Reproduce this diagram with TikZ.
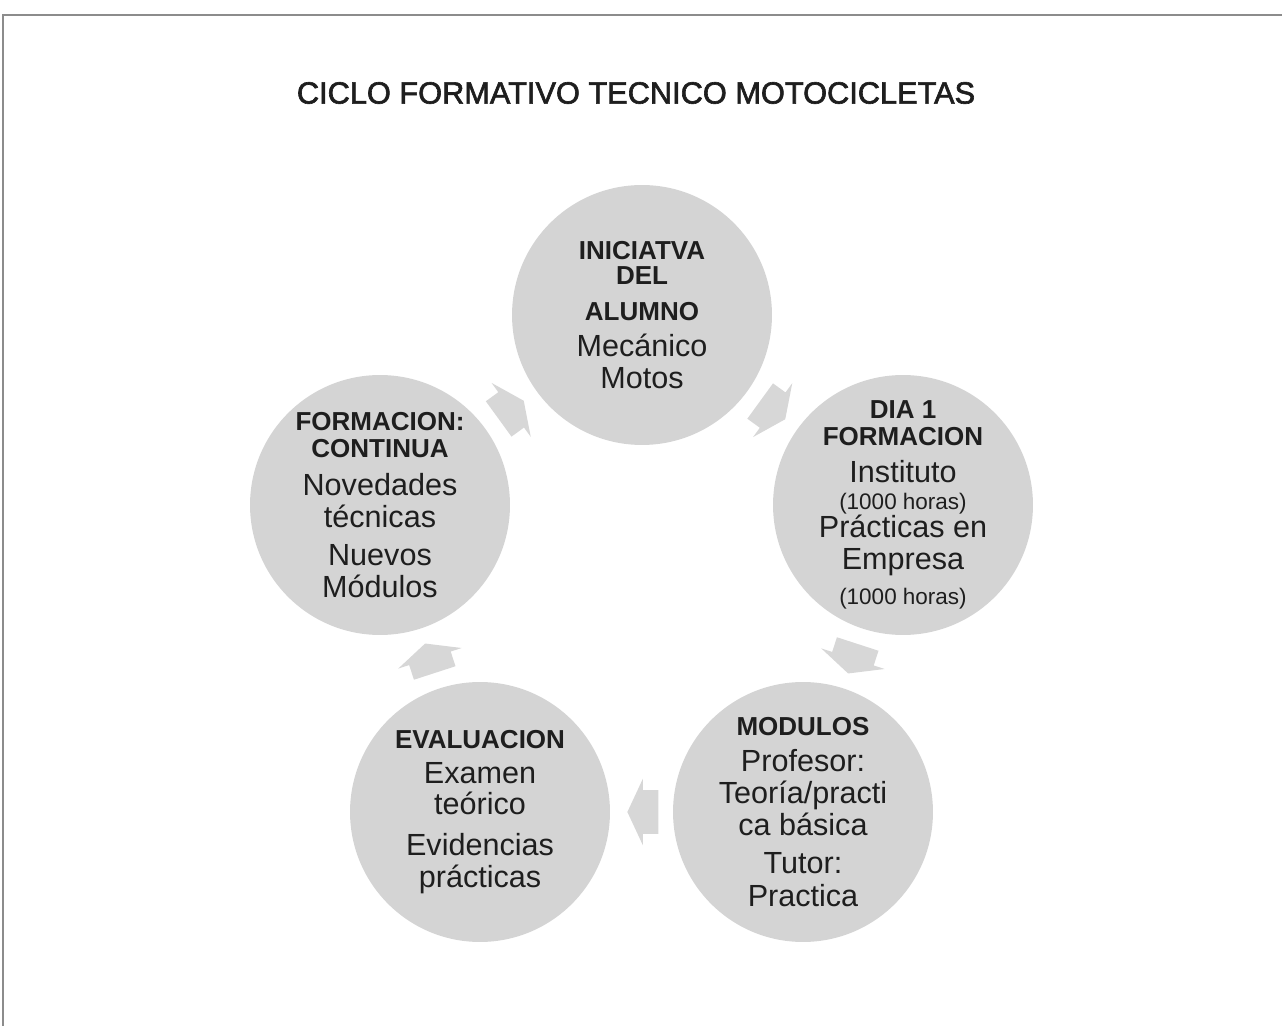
\documentclass[tikz,border=0pt]{standalone}
\usepackage{fontspec}
\setmainfont{Liberation Sans}
\newfontfamily\titlefont{Liberation Sans}[FakeBold=2]
\usepackage{tikz}
\usetikzlibrary{shapes.arrows,calc}
\definecolor{disc}{HTML}{D4D4D4}
\definecolor{flow}{HTML}{D7D7D7}
\definecolor{ink}{HTML}{1E1E1E}
\definecolor{frame}{HTML}{8C8C8C}
\newcommand{\hd}[1]{{\bfseries\fontsize{14.8}{15}\selectfont #1}}
\newcommand{\sm}[1]{{\fontsize{12.8}{13}\selectfont #1}}

\begin{document}
\begin{tikzpicture}[x=0.02cm,y=-0.02cm,
  stage/.style={circle,fill=disc,minimum size=5.2cm,inner sep=-0.4cm,align=center,text=ink,font=\fontsize{17.4}{18.2}\selectfont},
  cyc/.style={single arrow,fill=flow,inner xsep=0pt,inner ysep=0.43cm,minimum height=0.62cm,single arrow head extend=0.23cm,single arrow tip angle=130}]
  \useasboundingbox (0,0) rectangle (1282,1026);
  \draw[frame,line width=1.2pt] (1282,15) -- (3,15) -- (3,1026);
  \node[text=ink,font=\titlefont\fontsize{17.5}{20}\selectfont] (title) at (636,93) {CICLO FORMATIVO TECNICO MOTOCICLETAS};
  % the five stages, clockwise from the top
  \node[stage] (ini) at (642,315) {\hd{INICIATVA}\\[-4pt]\hd{DEL}\\[2.3pt]\hd{ALUMNO}\\[2.3pt]Mecánico\\Motos};
  \node[stage] (dia) at (903,505) {\hd{DIA 1}\\[-2.8pt]\hd{FORMACION}\\[2.8pt]Instituto\\[-2.8pt]\sm{(1000 horas)}\\[-2.3pt]Prácticas en\\Empresa\\[1.7pt]\sm{(1000 horas)}};
  \node[stage] (mod) at (803,812) {\hd{MODULOS}\\[2.8pt]Profesor:\\Teoría/practi\\ca básica\\[3.4pt]Tutor:\\[0.6pt]Practica};
  \node[stage] (eva) at (480,812) {\hd{EVALUACION}\\[1.7pt]Examen\\[-0.6pt]teórico\\[5.1pt]Evidencias\\prácticas};
  \node[stage] (form) at (380,505) {\hd{FORMACION:}\\[-2.8pt]\hd{CONTINUA}\\[3.4pt]Novedades\\técnicas\\[3.4pt]Nuevos\\Módulos};
  % block arrows between the stages
  \node[cyc,rotate=-36] (a1) at ($(ini)!0.485!(dia)$) {};
  \node[cyc,rotate=-108] (a2) at ($(dia)!0.485!(mod)$) {};
  \node[cyc,rotate=180] (a3) at ($(mod)!0.48!(eva)$) {};
  \node[cyc,rotate=108] (a4) at ($(eva)!0.485!(form)$) {};
  \node[cyc,rotate=36] (a5) at ($(form)!0.485!(ini)$) {};
\end{tikzpicture}
\end{document}
